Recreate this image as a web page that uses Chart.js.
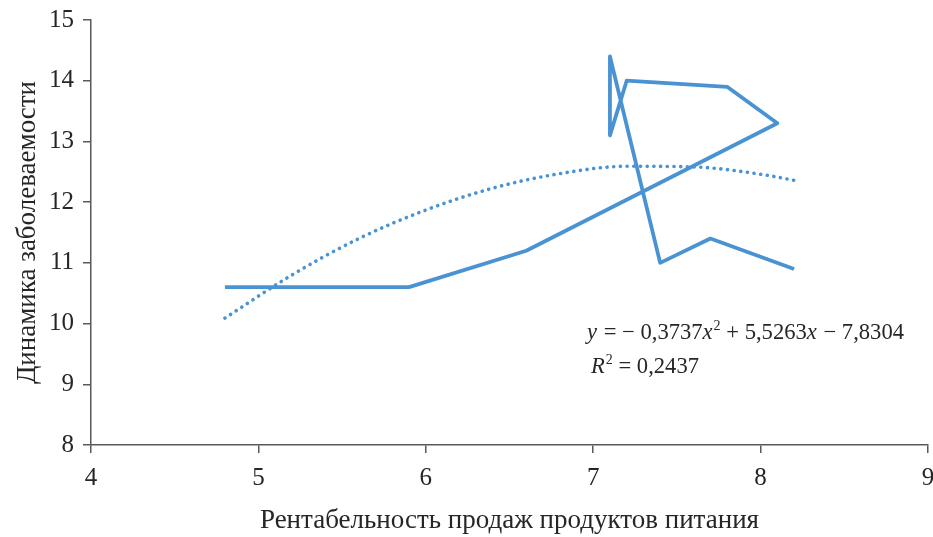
<!DOCTYPE html>
<html>
<head>
<meta charset="utf-8">
<script src="https://cdn.jsdelivr.net/npm/chart.js@4/dist/chart.umd.min.js"></script>
<style>
html,body{margin:0;padding:0;background:#fff;}
#wrap{width:933px;height:537px;position:relative;}
</style>
</head>
<body>
<div id="wrap"><canvas id="c" width="933" height="537"></canvas></div>
<script>
// Observed data (connected in original order)
const profitability = [4.8, 5.9, 6.6, 8.1, 7.8, 7.2, 7.1, 7.1, 7.4, 7.7, 8.2];
const morbidity     = [10.6, 10.6, 11.2, 13.3, 13.9, 14.0, 13.1, 14.4, 11.0, 11.4, 10.9];
// Polynomial trendline
const trendX = [4.8, 5.2, 5.6, 6.0, 6.4, 6.8, 7.2, 7.6, 8.0, 8.2];
const trendY = [10.09, 10.80, 11.40, 11.87, 12.23, 12.47, 12.59, 12.58, 12.46, 12.36];
const xTicks = [4, 5, 6, 7, 8, 9];
const yTicks = [8, 9, 10, 11, 12, 13, 14, 15];
const xTitle = 'Рентабельность продаж продуктов питания';
const yTitle = 'Динамика заболеваемости';
const eqLine = [['y', true], [' = − 0,3737', false], ['x', true], ['²', false], [' + 5,5263', false], ['x', true], [' − 7,8304', false]];
const r2Line = [['R', true], ['²', false], [' = 0,2437', false]];

const lineColor = '#4A93D3';
const axisColor = '#595959';
const textColor = '#262626';
const fontFamily = '"Liberation Serif", "DejaVu Serif", serif';

const eqPlugin = {
  id: 'eq',
  afterDatasetsDraw(chart) {
    const ctx = chart.ctx;
    ctx.save();
    ctx.fillStyle = textColor;
    ctx.textBaseline = 'alphabetic';
    function drawRuns(runs, x, y) {
      for (const [t, it] of runs) {
        let size = 22.6, dy = 0, txt = t;
        if (t === '²') { size = 14; dy = -9; txt = '2'; }
        ctx.font = (it ? 'italic ' : '') + size + 'px ' + fontFamily;
        ctx.fillText(txt, x, y + dy);
        x += ctx.measureText(txt).width + (it ? 1 : 0);
      }
    }
    drawRuns(eqLine, 587, 339);
    drawRuns(r2Line, 591, 373);
    ctx.restore();
  }
};

new Chart(document.getElementById('c'), {
  type: 'scatter',
  data: {
    datasets: [
      {
        data: profitability.map((x, i) => ({x: x, y: morbidity[i]})),
        showLine: true,
        borderColor: lineColor,
        borderWidth: 3.8,
        pointRadius: 0,
        fill: false,
        tension: 0,
        borderJoinStyle: 'round'
      },
      {
        data: trendX.map((x, i) => ({x: x, y: trendY[i]})),
        showLine: true,
        borderColor: lineColor,
        borderWidth: 3.6,
        borderDash: [0.1, 6.6],
        borderCapStyle: 'round',
        pointRadius: 0,
        fill: false,
        cubicInterpolationMode: 'monotone'
      }
    ]
  },
  options: {
    responsive: false,
    animation: false,
    layout: { padding: { top: 20, right: 5, left: 0, bottom: 0 } },
    plugins: { legend: { display: false }, tooltip: { enabled: false } },
    scales: {
      x: {
        type: 'linear',
        min: 4, max: 9,
        afterBuildTicks(s) { s.ticks = xTicks.map(v => ({value: v})); },
        afterFit(s) { s.height = 92; s.paddingLeft = 0; s.paddingRight = 0; },
        grid: { drawOnChartArea: false, drawTicks: true, tickLength: 8, color: axisColor, tickColor: axisColor, lineWidth: 1.5 },
        border: { color: axisColor, width: 1.5 },
        ticks: { color: textColor, font: { family: fontFamily, size: 25 }, padding: 10, maxRotation: 0 },
        title: { display: true, text: xTitle, color: textColor, font: { family: fontFamily, size: 27 }, padding: { top: 11, bottom: 0 } }
      },
      y: {
        type: 'linear',
        min: 8, max: 15,
        afterBuildTicks(s) { s.ticks = yTicks.map(v => ({value: v})); },
        afterFit(s) { s.width = 91; s.paddingTop = 0; s.paddingBottom = 0; },
        grid: { drawOnChartArea: false, drawTicks: true, tickLength: 8, color: axisColor, tickColor: axisColor, lineWidth: 1.5 },
        border: { color: axisColor, width: 1.5 },
        ticks: { color: textColor, font: { family: fontFamily, size: 25 }, padding: 9 },
        title: { display: true, text: yTitle, color: textColor, font: { family: fontFamily, size: 27 }, padding: { top: 12, bottom: 0 } }
      }
    }
  },
  plugins: [eqPlugin]
});
</script>
</body>
</html>
